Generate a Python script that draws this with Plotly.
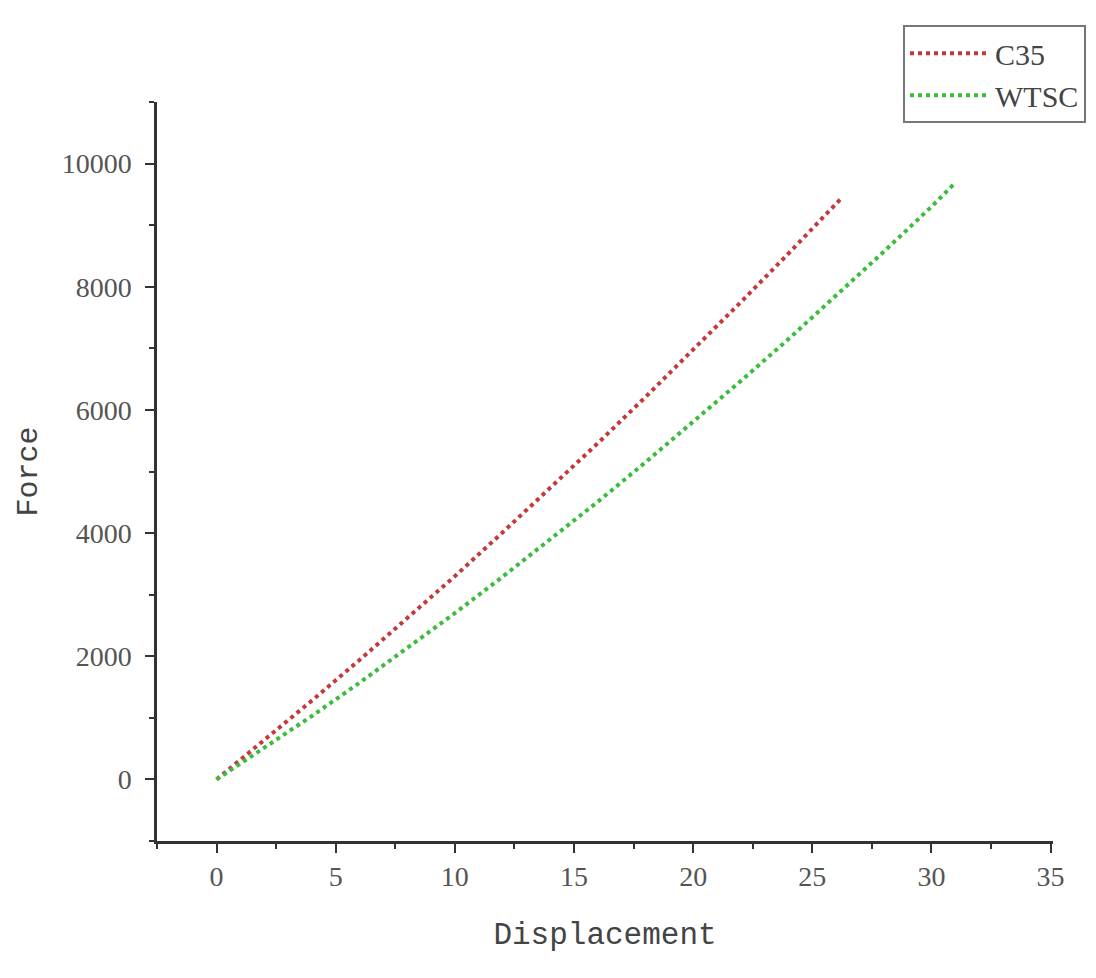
import plotly.graph_objects as go

# values
c35_disp = [0, 2, 4, 6, 8, 10, 12, 14, 16, 18, 20, 22, 24, 26.2]
c35_force = [0, 630, 1280, 1940, 2610, 3300, 4010, 4730, 5460, 6210, 6970, 7750, 8540, 9430]

wtsc_disp = [0, 2, 4, 6, 8, 10, 12, 14, 16, 18, 20, 22, 24, 26, 28, 30, 31]
wtsc_force = [0, 510, 1030, 1570, 2130, 2700, 3290, 3890, 4510, 5150, 5800, 6470, 7150, 7850, 8570, 9300, 9690]

x_ticks = [0, 5, 10, 15, 20, 25, 30, 35]
y_ticks = [0, 2000, 4000, 6000, 8000, 10000]
y_labels = ["0", "2000", "4000", "6000", "8000", "10000"]

axis_col = "#333333"
serif = "Liberation Serif"
mono = "Liberation Mono"

fig = go.Figure()
fig.add_trace(go.Scatter(
    x=c35_disp, y=c35_force, mode="lines", name="C35",
    line=dict(color="#c43a3a", width=4, dash="dot")
))
fig.add_trace(go.Scatter(
    x=wtsc_disp, y=wtsc_force, mode="lines", name="WTSC",
    line=dict(color="#3cbc3c", width=4, dash="dot")
))

fig.update_xaxes(
    range=[-2.5, 35.1], tickvals=x_ticks, showgrid=False, zeroline=False,
    showline=True, linewidth=2.5, linecolor=axis_col,
    ticks="outside", ticklen=9, tickwidth=2, tickcolor=axis_col,
    minor=dict(tickvals=[-2.5, 2.5, 7.5, 12.5, 17.5, 22.5, 27.5, 32.5],
               ticks="outside", ticklen=5, tickwidth=2, tickcolor=axis_col),
    tickfont=dict(family=serif, size=28, color="#555555"),
    title=dict(text="Displacement", font=dict(family=mono, size=31, color="#444444"), standoff=31),
)
fig.update_yaxes(
    range=[-1000, 11000], tickvals=y_ticks, ticktext=y_labels,
    showgrid=False, zeroline=False,
    showline=True, linewidth=2.5, linecolor=axis_col,
    ticks="outside", ticklen=9, tickwidth=2, tickcolor=axis_col,
    minor=dict(tickvals=[-1000, 1000, 3000, 5000, 7000, 9000, 11000],
               ticks="outside", ticklen=5, tickwidth=2, tickcolor=axis_col),
    tickfont=dict(family=serif, size=28, color="#555555"),
    ticklabelstandoff=8,
    title=dict(text="Force", font=dict(family=mono, size=30, color="#444444"), standoff=16),
)

fig.update_layout(
    width=1088, height=970,
    margin=dict(l=149, r=43, t=94, b=137, autoexpand=False),
    plot_bgcolor="white", paper_bgcolor="white",
    legend=dict(
        x=0.8326, y=1.104, xanchor="left", yanchor="top",
        bgcolor="white", bordercolor="#777777", borderwidth=2,
        font=dict(family=serif, size=30, color="#444444"),
        itemwidth=80, tracegroupgap=0,
    ),
)

fig.write_html("out.html")
